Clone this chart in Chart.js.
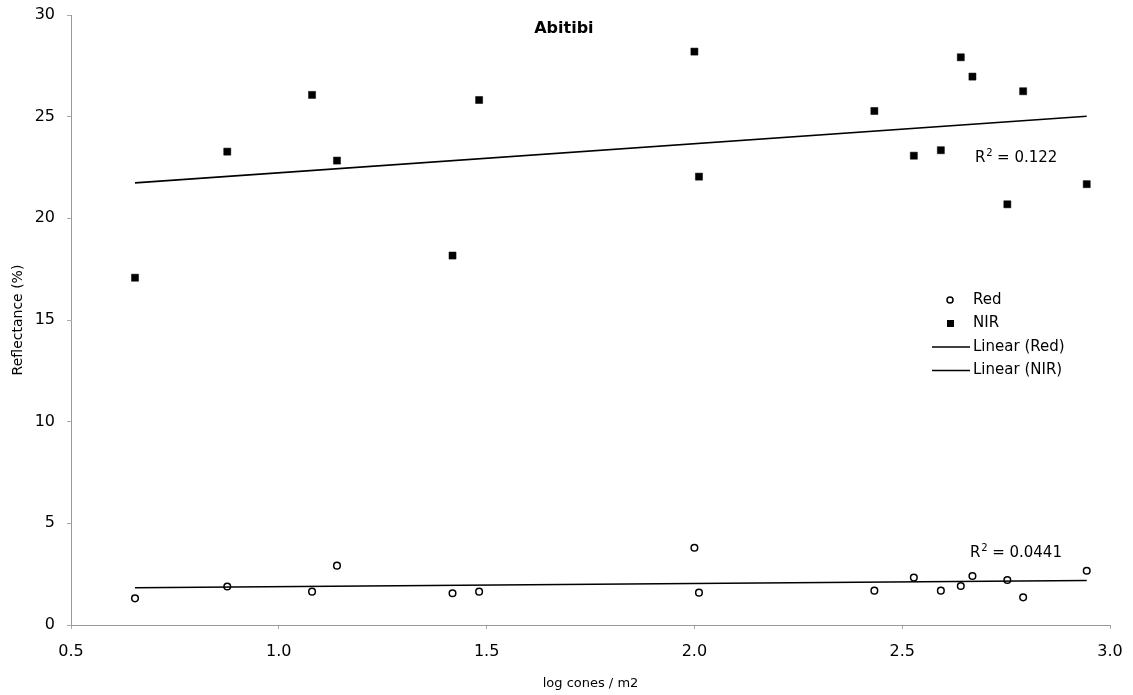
<!DOCTYPE html>
<html>
<head>
<meta charset="utf-8">
<title>Abitibi</title>
<script src="https://cdn.jsdelivr.net/npm/chart.js@4/dist/chart.umd.min.js"></script>
<style>
  html, body { margin: 0; padding: 0; background: #fff; }
  #wrap { width: 1133px; height: 695px; }
</style>
</head>
<body>
<div id="wrap"><canvas id="myChart" width="1133" height="695"></canvas></div>
<script>
// log cone density per plot and the measured reflectance in each band
var logCones = [0.654, 0.876, 1.080, 1.140, 1.418, 1.482, 2.000, 2.011, 2.433, 2.528, 2.593, 2.641, 2.669, 2.753, 2.791, 2.944];
var redValues = [1.31, 1.89, 1.64, 2.92, 1.56, 1.64, 3.80, 1.59, 1.69, 2.33, 1.69, 1.92, 2.41, 2.21, 1.36, 2.67];
var nirValues = [17.08, 23.28, 26.07, 22.84, 18.17, 25.82, 28.20, 22.05, 25.28, 23.08, 23.35, 27.92, 26.97, 20.69, 26.25, 21.68];

var xTicks = [0.5, 1.0, 1.5, 2.0, 2.5, 3.0];
var yTicks = [0, 5, 10, 15, 20, 25, 30];

var FONT = "'DejaVu Sans', Verdana, sans-serif";

function toPoints(xs, ys) {
    return xs.map(function (x, i) { return { x: x, y: ys[i] }; });
}

// least squares line through the points, drawn over the x range of the data
function trendLine(xs, ys) {
    var n = xs.length;
    var mx = xs.reduce(function (a, b) { return a + b; }, 0) / n;
    var my = ys.reduce(function (a, b) { return a + b; }, 0) / n;
    var sxy = 0, sxx = 0;
    for (var i = 0; i < n; i++) {
        sxy += (xs[i] - mx) * (ys[i] - my);
        sxx += (xs[i] - mx) * (xs[i] - mx);
    }
    var slope = sxy / sxx;
    var x0 = Math.min.apply(null, xs), x1 = Math.max.apply(null, xs);
    return [
        { x: x0, y: my + slope * (x0 - mx) },
        { x: x1, y: my + slope * (x1 - mx) }
    ];
}

// title, R² labels and the legend box inside the plot
var annotations = {
    id: 'annotations',
    afterDatasetsDraw: function (chart) {
        var ctx = chart.ctx;
        var xs = chart.scales.x, ys = chart.scales.y;
        ctx.save();
        ctx.fillStyle = '#000';
        ctx.textBaseline = 'middle';

        ctx.font = 'bold 16px ' + FONT;
        ctx.textAlign = 'center';
        ctx.fillText('Abitibi', xs.getPixelForValue(1.686), ys.getPixelForValue(29.3));

        // R² = value, with a raised 2
        function rSquared(text, xv, yv) {
            var x = xs.getPixelForValue(xv), y = ys.getPixelForValue(yv);
            ctx.textAlign = 'left';
            ctx.font = '15px ' + FONT;
            ctx.fillText('R', x, y);
            var w = ctx.measureText('R').width;
            ctx.font = '10px ' + FONT;
            ctx.fillText('2', x + w + 1, y - 5);
            ctx.font = '15px ' + FONT;
            ctx.fillText(' = ' + text, x + w + 7, y);
        }
        rSquared('0.122', 2.675, 22.97);
        rSquared('0.0441', 2.663, 3.54);

        // legend
        var ca = chart.chartArea;
        var lx = ca.right - 178, ty = ca.top + 285;
        var rows = [
            { label: 'Red', kind: 'circle' },
            { label: 'NIR', kind: 'square' },
            { label: 'Linear (Red)', kind: 'line' },
            { label: 'Linear (NIR)', kind: 'line' }
        ];
        ctx.font = '15px ' + FONT;
        ctx.textAlign = 'left';
        rows.forEach(function (r, i) {
            var y = ty + i * 23.5;
            ctx.strokeStyle = '#000';
            ctx.fillStyle = '#000';
            if (r.kind === 'circle') {
                ctx.lineWidth = 1.5;
                ctx.beginPath();
                ctx.arc(lx + 18, y, 3, 0, Math.PI * 2);
                ctx.stroke();
            } else if (r.kind === 'square') {
                ctx.fillRect(lx + 15, y - 3.5, 7, 7);
            } else {
                ctx.lineWidth = 1.5;
                ctx.beginPath();
                ctx.moveTo(lx, y);
                ctx.lineTo(lx + 38, y);
                ctx.stroke();
            }
            ctx.fillText(r.label, lx + 41, y);
        });
        ctx.restore();
    }
};

var ctx = document.getElementById('myChart').getContext('2d');

var myChart = new Chart(ctx, {
    type: 'scatter',
    data: {
        datasets: [
            {
                label: 'Linear (Red)',
                type: 'line',
                data: trendLine(logCones, redValues),
                borderColor: '#000',
                borderWidth: 1.6,
                pointRadius: 0,
                fill: false
            },
            {
                label: 'Linear (NIR)',
                type: 'line',
                data: trendLine(logCones, nirValues),
                borderColor: '#000',
                borderWidth: 1.6,
                pointRadius: 0,
                fill: false
            },
            {
                label: 'Red',
                data: toPoints(logCones, redValues),
                pointStyle: 'circle',
                pointRadius: 3.3,
                backgroundColor: '#fff',
                borderColor: '#000',
                borderWidth: 1.5
            },
            {
                label: 'NIR',
                data: toPoints(logCones, nirValues),
                pointStyle: 'rect',
                pointRadius: 5,
                backgroundColor: '#000',
                borderColor: '#000',
                borderWidth: 0.5
            }
        ]
    },
    options: {
        responsive: false,
        animation: false,
        layout: {
            padding: { top: 15, right: 23, left: 0, bottom: 0 }
        },
        plugins: {
            legend: { display: false },
            tooltip: { enabled: false }
        },
        scales: {
            x: {
                type: 'linear',
                min: 0.5,
                max: 3.0,
                afterBuildTicks: function (scale) {
                    scale.ticks = xTicks.map(function (v) { return { value: v }; });
                },
                afterFit: function (scale) {
                    scale.height = 70;
                    scale.paddingLeft = 0;
                    scale.paddingRight = 0;
                },
                ticks: {
                    color: '#000',
                    font: { family: FONT, size: 16 },
                    padding: 13,
                    callback: function (v) { return v.toFixed(1); }
                },
                grid: {
                    drawOnChartArea: false,
                    tickLength: 4,
                    color: '#aaa'
                },
                border: { color: '#999', dash: [1, 1], width: 1 },
                title: {
                    display: true,
                    text: 'log cones / m2',
                    color: '#000',
                    font: { family: FONT, size: 13 },
                    padding: { top: 0, bottom: 4 }
                }
            },
            y: {
                type: 'linear',
                min: 0,
                max: 30,
                afterBuildTicks: function (scale) {
                    scale.ticks = yTicks.map(function (v) { return { value: v }; });
                },
                afterFit: function (scale) {
                    scale.width = 71;
                    scale.paddingTop = 0;
                    scale.paddingBottom = 0;
                },
                ticks: {
                    color: '#000',
                    font: { family: FONT, size: 16 },
                    padding: 12
                },
                grid: {
                    drawOnChartArea: false,
                    tickLength: 4,
                    color: '#aaa'
                },
                border: { color: '#999', dash: [1, 1], width: 1 },
                title: {
                    display: true,
                    text: 'Reflectance (%)',
                    color: '#000',
                    font: { family: FONT, size: 14 },
                    padding: { top: 10, bottom: 0 }
                }
            }
        }
    },
    plugins: [annotations]
});
</script>
</body>
</html>
